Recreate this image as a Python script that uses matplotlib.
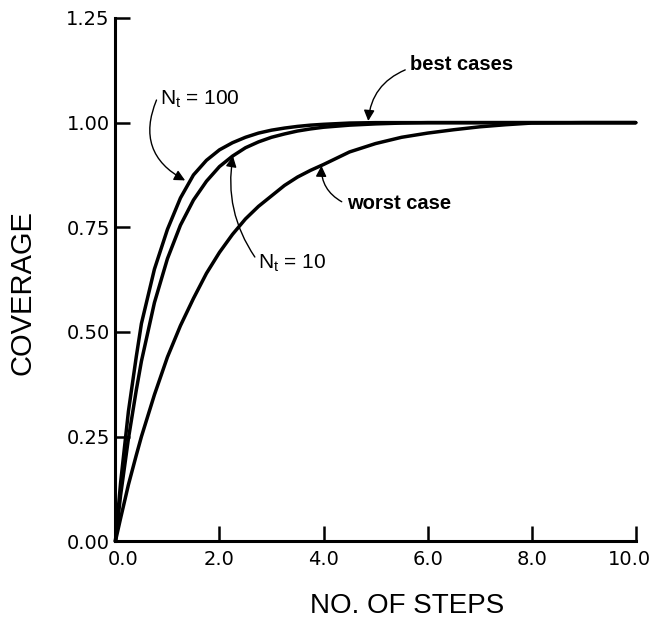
import numpy as np
import matplotlib
matplotlib.use("Agg")
import matplotlib.pyplot as plt
import matplotlib.transforms as mtransforms

plt.rcParams['font.family'] = ['Liberation Sans', 'DejaVu Sans']

# values
steps = [0.0, 0.1, 0.25, 0.4, 0.5, 0.75, 1.0, 1.25, 1.5, 1.75, 2.0, 2.25, 2.5, 2.75,
         3.0, 3.25, 3.5, 3.75, 4.0, 4.5, 5.0, 5.5, 6.0, 6.5, 7.0, 7.5, 8.0, 9.0, 10.0]
cov_nt100 = [0.0, 0.14, 0.31, 0.44, 0.52, 0.65, 0.745, 0.82, 0.875, 0.91, 0.935, 0.952, 0.965, 0.975,
             0.982, 0.987, 0.991, 0.994, 0.996, 0.999, 1.0, 1.0, 1.0, 1.0, 1.0, 1.0, 1.0, 1.0, 1.0]
cov_nt10 = [0.0, 0.11, 0.245, 0.36, 0.43, 0.57, 0.675, 0.755, 0.815, 0.86, 0.895, 0.92, 0.94, 0.954,
            0.965, 0.973, 0.98, 0.985, 0.989, 0.994, 0.997, 0.999, 1.0, 1.0, 1.0, 1.0, 1.0, 1.0, 1.0]
cov_worst = [0.0, 0.055, 0.135, 0.205, 0.25, 0.35, 0.44, 0.515, 0.58, 0.64, 0.69, 0.733, 0.77, 0.8,
             0.825, 0.85, 0.87, 0.886, 0.90, 0.93, 0.95, 0.965, 0.975, 0.983, 0.99, 0.995, 0.999, 1.0, 1.0]

xticks = [0, 2, 4, 6, 8, 10]
xtick_labels = ["0.0", "2.0", "4.0", "6.0", "8.0", "10.0"]
yticks = [0, 0.25, 0.5, 0.75, 1.0, 1.25]
ytick_labels = ["0.00", "0.25", "0.50", "0.75", "1.00", "1.25"]

fig = plt.figure(figsize=(6.52, 6.20), dpi=100)
ax = fig.add_axes([0.177, 0.127, 0.798, 0.844])

for yy in [cov_nt100, cov_nt10, cov_worst]:
    ax.plot(steps, yy, color='black', lw=2.5, clip_on=False,
            solid_capstyle='round', solid_joinstyle='round')

ax.set_xlim(0, 10)
ax.set_ylim(0, 1.25)
ax.spines['top'].set_visible(False)
ax.spines['right'].set_visible(False)
ax.spines['left'].set_linewidth(2.2)
ax.spines['bottom'].set_linewidth(2.2)

ax.set_xticks(xticks)
ax.set_xticklabels(xtick_labels, family='DejaVu Sans')
ax.set_yticks(yticks)
ax.set_yticklabels(ytick_labels, family='DejaVu Sans')
ax.tick_params(direction='in', length=11, width=1.8, labelsize=14)
ax.tick_params(axis='x', pad=6)
ax.tick_params(axis='y', pad=4)

# the 0.0 label sits a bit right of its tick in the original; keep 10.0 inside the figure
xlabs = ax.get_xticklabels()
xlabs[0].set_transform(xlabs[0].get_transform() + mtransforms.ScaledTranslation(8 / 100, 0, fig.dpi_scale_trans))
xlabs[-1].set_transform(xlabs[-1].get_transform() + mtransforms.ScaledTranslation(-6 / 100, 0, fig.dpi_scale_trans))

ax.set_xlabel("NO. OF STEPS", fontsize=20, va='center')
ax.xaxis.set_label_coords(0.5615, -0.124)
ax.set_ylabel("COVERAGE", fontsize=21, va='center', ha='center')
ax.yaxis.set_label_coords(-0.179, 0.475)

arrow = dict(arrowstyle='-|>', color='black', lw=1.0, mutation_scale=16, shrinkA=0, shrinkB=0)

# N_t = 100
ax.text(0.86, 1.056, r"N$_\mathregular{t}$ = 100", fontsize=15, va='center', ha='left')
ax.annotate('', xy=(1.34, 0.862), xytext=(0.79, 1.054),
            arrowprops=dict(arrow, connectionstyle='arc3,rad=0.45'))

# N_t = 10
ax.text(2.74, 0.664, r"N$_\mathregular{t}$ = 10", fontsize=15, va='center', ha='left')
ax.annotate('', xy=(2.26, 0.92), xytext=(2.68, 0.679),
            arrowprops=dict(arrow, connectionstyle='arc3,rad=-0.2'))

# best cases
ax.text(5.66, 1.138, "best cases", fontsize=14.5, fontweight='bold', va='center', ha='left')
ax.annotate('', xy=(4.86, 1.004), xytext=(5.57, 1.126),
            arrowprops=dict(arrow, connectionstyle='arc3,rad=0.3'))

# worst case
ax.text(4.45, 0.808, "worst case", fontsize=14.5, fontweight='bold', va='center', ha='left')
ax.annotate('', xy=(3.96, 0.897), xytext=(4.35, 0.811),
            arrowprops=dict(arrow, connectionstyle='arc3,rad=-0.3'))

plt.savefig("out.png", dpi=100)
